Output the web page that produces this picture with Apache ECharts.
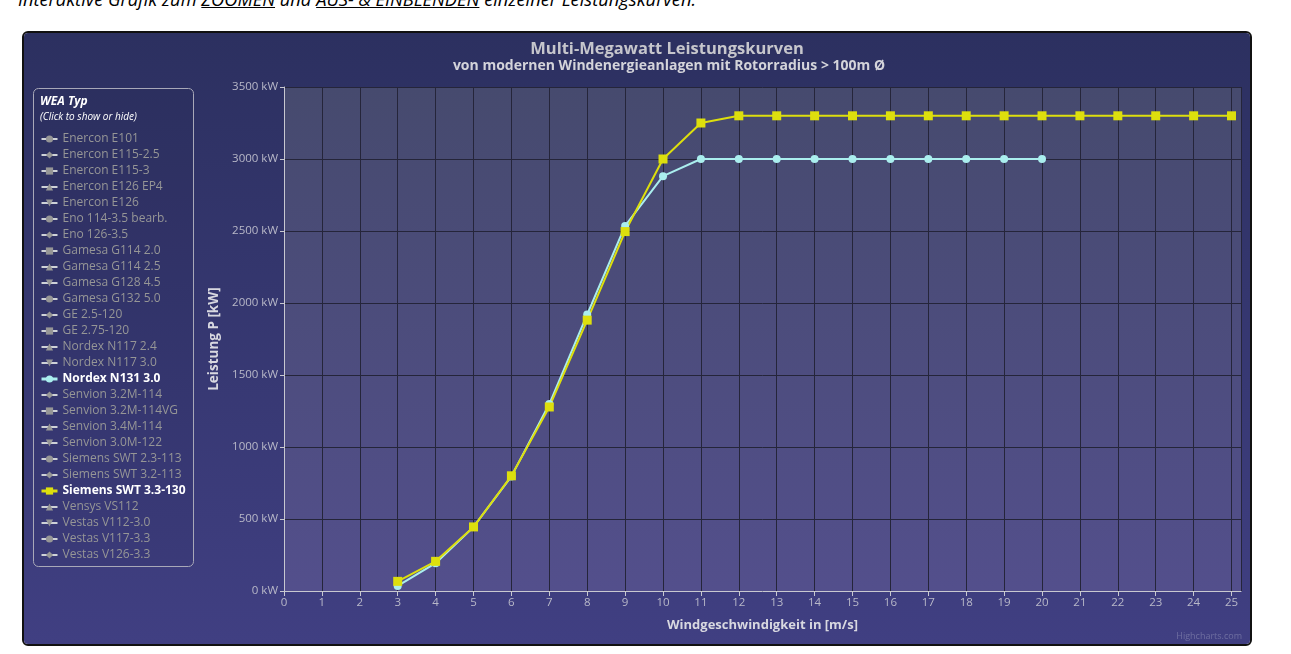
<!DOCTYPE html>
<html>
<head>
<meta charset="utf-8">
<script src="https://cdn.jsdelivr.net/npm/echarts@6/dist/echarts.min.js"></script>
<style>
html,body{margin:0;padding:0;background:#fff;width:1291px;height:654px;overflow:hidden;font-family:"Open Sans",sans-serif;}
#intro{position:absolute;left:18px;top:-11px;font-size:18.3px;font-style:italic;color:#000;white-space:nowrap;line-height:20px;}
#intro u{text-decoration:underline;}
#wrap{position:absolute;left:22px;top:31px;width:1230px;height:615px;box-sizing:border-box;border:2px solid #111;border-radius:6px;overflow:hidden;}
#chart{width:1226px;height:611px;}
</style>
</head>
<body>
<div id="intro">Interaktive Grafik zum <u>ZOOMEN</u> und <u>AUS- &amp; EINBLENDEN</u> einzelner Leistungskurven.</div>
<div id="wrap"><div id="chart"></div></div>
<script>
// ---- data ----
const seriesNames = [
  "Enercon E101","Enercon E115-2.5","Enercon E115-3","Enercon E126 EP4","Enercon E126",
  "Eno 114-3.5 bearb.","Eno 126-3.5","Gamesa G114 2.0","Gamesa G114 2.5","Gamesa G128 4.5",
  "Gamesa G132 5.0","GE 2.5-120","GE 2.75-120","Nordex N117 2.4","Nordex N117 3.0",
  "Nordex N131 3.0","Senvion 3.2M-114","Senvion 3.2M-114VG","Senvion 3.4M-114","Senvion 3.0M-122",
  "Siemens SWT 2.3-113","Siemens SWT 3.2-113","Siemens SWT 3.3-130","Vensys VS112","Vestas V112-3.0",
  "Vestas V117-3.3","Vestas V126-3.3"
];
const visibleSeries = ["Nordex N131 3.0","Siemens SWT 3.3-130"];
const nordexWind  = [3,4,5,6,7,8,9,10,11,12,13,14,15,16,17,18,19,20];
const nordexPower = [35,193,445,796,1298,1921,2535,2881,3000,3000,3000,3000,3000,3000,3000,3000,3000,3000];
const siemensWind  = [3,4,5,6,7,8,9,10,11,12,13,14,15,16,17,18,19,20,21,22,23,24,25];
const siemensPower = [67,206,445,800,1278,1881,2496,3000,3250,3300,3300,3300,3300,3300,3300,3300,3300,3300,3300,3300,3300,3300,3300];
const yTicks = [0,500,1000,1500,2000,2500,3000,3500];

const symbols = ['circle','diamond','rect','triangle','path://M0,0 L10,0 L5,10 Z'];
const colors = {"Nordex N131 3.0":"#aaeeee","Siemens SWT 3.3-130":"#DDDF0D"};
const dataMap = {
  "Nordex N131 3.0": nordexWind.map((w,i)=>[w,nordexPower[i]]),
  "Siemens SWT 3.3-130": siemensWind.map((w,i)=>[w,siemensPower[i]])
};
const font = '"Open Sans", sans-serif';

const series = seriesNames.map((n,i)=>({
  name:n, type:'line', data: dataMap[n] || [],
  symbol: symbols[i%5], symbolSize: symbols[i%5]==='rect'?9:8,
  showAllSymbol:true,
  color: colors[n] || '#999',
  lineStyle:{width:2},
  itemStyle:{color: colors[n] || '#999'},
  emphasis:{disabled:true},
  z: 3, animation:false
}));
const selected = {};
seriesNames.forEach(n=>selected[n]=visibleSeries.includes(n));

const chart = echarts.init(document.getElementById('chart'));
chart.setOption({
  backgroundColor:{type:'linear',x:0,y:0,x2:0,y2:1,colorStops:[{offset:0,color:'#2c3060'},{offset:1,color:'#403f82'}]},
  animation:false,
  graphic:[
    {type:'text',x:643,y:16,style:{text:'Multi-Megawatt Leistungskurven',fill:'#c6c6cc',
      font:'bold 16.5px "Open Sans", sans-serif',align:'center',verticalAlign:'middle'},z:2},
    {type:'text',x:645,y:33,style:{text:'von modernen Windenergieanlagen mit Rotorradius > 100m Ø',fill:'#d4d4da',
      font:'bold 14px "Open Sans", sans-serif',align:'center',verticalAlign:'middle'},z:2},
    {type:'rect',left:9,top:55,shape:{width:160,height:478,r:5},style:{fill:'rgba(0,0,0,0.04)',stroke:'#a8a8b8',lineWidth:1},z:1},
    {type:'text',left:16,top:63,style:{text:'WEA Typ',fill:'#fff',font:'italic bold 12px "Open Sans", sans-serif'},z:2},
    {type:'text',left:16,top:79,style:{text:'(Click to show or hide)',fill:'#fff',font:'italic 10px "Open Sans", sans-serif'},z:2},
    {type:'text',right:8,bottom:3,style:{text:'Highcharts.com',fill:'#6e6ea0',font:'9px "Open Sans", sans-serif'},z:2}
  ],
  legend:{
    orient:'vertical', left:11, top:95, itemWidth:16, itemHeight:9, itemGap:4,
    selected: selected, inactiveColor:'#969696',
    lineStyle:{width:3},
    textStyle:{color:'#9a9aa0',fontSize:12,fontFamily:font},
    data: seriesNames.map(n=> visibleSeries.includes(n)
      ? {name:n,textStyle:{color:'#ffffff',fontWeight:'bold'}}
      : {name:n}),
    selectedMode:true
  },
  grid:{left:260,top:54,width:957,height:504,show:true,borderWidth:0,
    backgroundColor:{type:'linear',x:0,y:0,x2:0,y2:1,colorStops:[{offset:0,color:'#464a6e'},{offset:1,color:'#534f8c'}]}},
  xAxis:{
    type:'value',min:0,max:25.25,interval:1,
    name:'Windgeschwindigkeit in [m/s]',nameLocation:'middle',nameGap:28,
    nameTextStyle:{color:'#d8d8e0',fontSize:13,fontWeight:'bold',fontFamily:font},
    axisLine:{show:true,onZero:false,lineStyle:{color:'#c8c8d0',width:1}},
    axisTick:{show:true,length:5,lineStyle:{color:'#c8c8d0'}},
    axisLabel:{color:'#b8b8c8',fontSize:11.5,fontFamily:font,margin:6,showMaxLabel:false},
    splitLine:{show:true,lineStyle:{color:'#25253a',width:1}}
  },
  yAxis:{
    type:'value',min:0,max:3500,interval:500,
    name:'Leistung P [kW]',nameLocation:'middle',nameGap:61,nameRotate:90,
    nameTextStyle:{color:'#d8d8e0',fontSize:13.5,fontWeight:'bold',fontFamily:font},
    axisLine:{show:true,lineStyle:{color:'#c8c8d0',width:1}},
    axisTick:{show:true,length:4,lineStyle:{color:'#c8c8d0'}},
    axisLabel:{color:'#b8b8c8',fontSize:11.5,fontFamily:font,margin:6,
      formatter:v=> yTicks.includes(v)? v+' kW':''},
    splitLine:{show:true,lineStyle:{color:'#25253a',width:1}}
  },
  series: series
});
</script>
</body>
</html>
